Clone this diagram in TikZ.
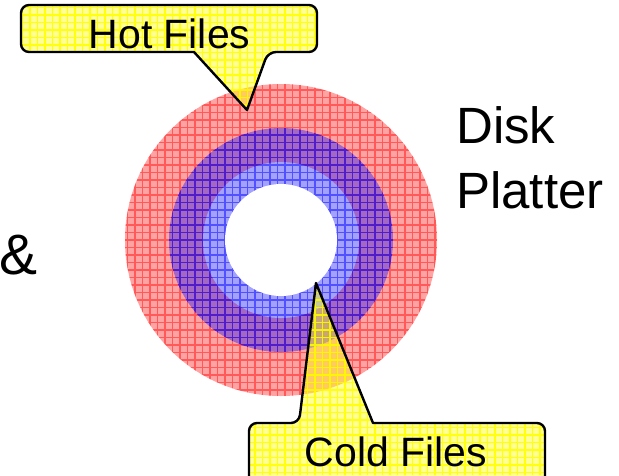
\documentclass[tikz,border=0pt]{standalone}
\usepackage{fontspec}
\setmainfont{Liberation Sans}
\definecolor{pinkfill}{RGB}{255,0,0}
\definecolor{bluefill}{RGB}{0,0,255}
\definecolor{yelfill}{RGB}{255,255,0}
\begin{document}
\begin{tikzpicture}[x=1pt,y=-1pt,
  lbl/.style={inner sep=0pt, font=\fontsize{41}{49}\selectfont},
  big/.style={inner sep=0pt, font=\fontsize{51}{61}\selectfont},
  pinkgrid/.style={draw=pinkfill, draw opacity=0.45, line width=1.1pt},
  bluegrid/.style={draw=bluefill, draw opacity=0.5, line width=1.1pt},
  yelgrid/.style={draw=yelfill, draw opacity=0.9, line width=1.1pt},
  calloutfill/.style={fill=yelfill, fill opacity=0.42},
  calloutline/.style={draw=black, line width=2.4pt, line join=round}]
\useasboundingbox (0,0) rectangle (619,475);
\coordinate (c) at (281,240);
\coordinate (hottip) at (247,110);
\coordinate (coldtip) at (316,283);

% pink ring
\fill[pinkfill, fill opacity=0.36] (c) circle (156);
\begin{scope}
  \clip (c) circle (156);
  \draw[pinkgrid, step=7.5pt] (0,475) grid (619,0);
\end{scope}
\fill[white] (c) circle (78);
% blue ring
\fill[bluefill, fill opacity=0.36] (c) circle (112);
\begin{scope}
  \clip (c) circle (112);
  \draw[bluegrid, step=7.5pt] (0,475) grid (619,0);
\end{scope}
\fill[white] (c) circle (56);

% Hot Files callout
\def\hotpath{(21,5) [rounded corners=8pt] -- (317,5) -- (317,52) -- (268,52) [sharp corners] -- (hottip) -- (194,52) [rounded corners=8pt] -- (21,52) -- cycle}
\fill[calloutfill] \hotpath;
\begin{scope}
  \clip \hotpath;
  \draw[yelgrid, step=7.5pt] (0,475) grid (619,0);
\end{scope}
\draw[calloutline] \hotpath;
\node[lbl, anchor=base] (hot) at (169.5,48) {Hot Files};

% Cold Files callout
\def\coldpath{(249,500) [rounded corners=8pt] -- (249,423) -- (299,423) [sharp corners] -- (coldtip) -- (373,423) [rounded corners=8pt] -- (545,423) -- (545,500) -- cycle}
\fill[calloutfill] \coldpath;
\begin{scope}
  \clip \coldpath;
  \draw[yelgrid, step=7.5pt] (0,475) grid (619,0);
\end{scope}
\draw[calloutline] \coldpath;
\node[lbl, anchor=base] (cold) at (396,466) {Cold Files};

% side texts
\node[big, anchor=base west] (disk) at (456,143) {Disk};
\node[big, anchor=base west] (platter) at (456,208) {Platter};
\node[inner sep=0pt, font=\fontsize{57}{68}\selectfont, anchor=base west] (amp) at (-1,274) {\&};
\end{tikzpicture}
\end{document}
